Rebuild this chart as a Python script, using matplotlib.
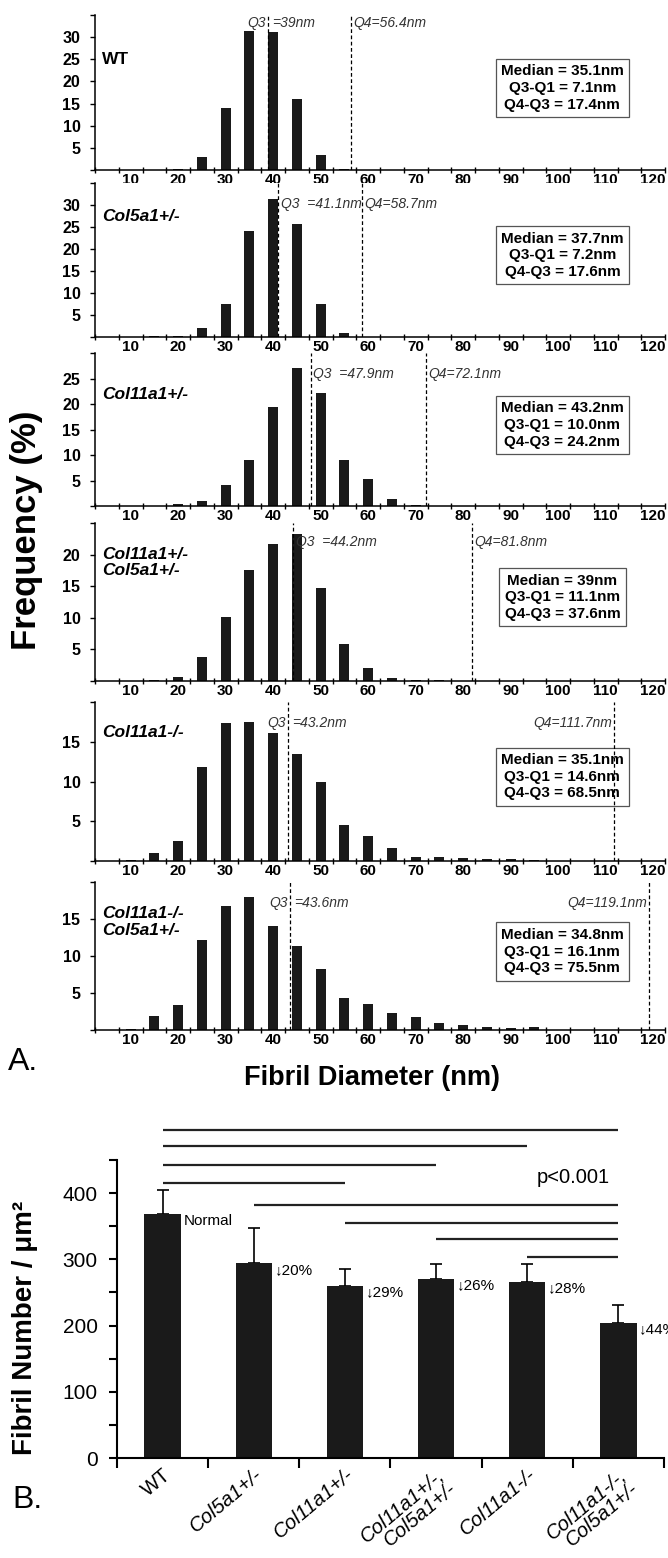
import matplotlib
matplotlib.use("Agg")
import matplotlib.pyplot as plt
import matplotlib.transforms as mtransforms
import numpy as np

FIG_W, FIG_H = 668, 1558

plt.rcParams["font.family"] = ["Liberation Sans", "DejaVu Sans"]

BAR_COLOR = "#1a1a1a"

# ---- A: fibril diameter distributions (% of fibrils per 5 nm bin)
diameter_bins = [5, 10, 15, 20, 25, 30, 35, 40, 45, 50, 55, 60,
                 65, 70, 75, 80, 85, 90, 95, 100, 105, 110, 115, 120]

genotype_panels = ["WT", "Col5a1+/-", "Col11a1+/-", "Col11a1+/-\nCol5a1+/-",
                   "Col11a1-/-", "Col11a1-/-\nCol5a1+/-"]

freq_wt = [0, 0, 0.1, 0.3, 3.0, 14.0, 31.5, 31.2, 16.0, 3.3, 0.3, 0,
           0, 0, 0, 0, 0, 0, 0, 0, 0, 0, 0, 0]
freq_col5 = [0, 0, 0.3, 0.15, 2.0, 7.5, 24.0, 31.3, 25.6, 7.6, 0.9, 0.1,
             0, 0, 0, 0, 0, 0, 0, 0, 0, 0, 0, 0]
freq_col11_het = [0, 0, 0, 0.3, 1.0, 4.2, 9.0, 19.4, 27.0, 22.2, 9.0, 5.3,
                  1.4, 0.2, 0, 0, 0, 0, 0, 0, 0, 0, 0, 0]
freq_col11_het_col5 = [0, 0, 0.1, 0.7, 3.8, 10.2, 17.5, 21.7, 23.2, 14.7, 5.8, 2.0,
                       0.4, 0.1, 0.1, 0, 0, 0, 0, 0, 0, 0, 0, 0]
freq_col11_null = [0, 0.1, 1.0, 2.5, 11.8, 17.4, 17.5, 16.1, 13.4, 9.9, 4.5, 3.1,
                   1.6, 0.55, 0.55, 0.35, 0.2, 0.2, 0.1, 0, 0, 0, 0, 0]
freq_col11_null_col5 = [0, 0.2, 1.9, 3.4, 12.1, 16.8, 18.0, 14.0, 11.4, 8.3, 4.3, 3.5,
                        2.25, 1.8, 1.0, 0.7, 0.4, 0.3, 0.4, 0, 0, 0, 0, 0]
freq_series = [freq_wt, freq_col5, freq_col11_het, freq_col11_het_col5,
               freq_col11_null, freq_col11_null_col5]

q3_values = [39, 41.1, 47.9, 44.2, 43.2, 43.6]
q4_values = [56.4, 58.7, 72.1, 81.8, 111.7, 119.1]
q3_text = ["39", "41.1", "47.9", "44.2", "43.2", "43.6"]
q4_text = ["56.4", "58.7", "72.1", "81.8", "111.7", "119.1"]
median_text = ["35.1", "37.7", "43.2", "39", "35.1", "34.8"]
q3q1_text = ["7.1", "7.2", "10.0", "11.1", "14.6", "16.1"]
q4q3_text = ["17.4", "17.6", "24.2", "37.6", "68.5", "75.5"]
freq_ymax = [35, 35, 30, 25, 20, 20]

# ---- B: fibril density
genotypes_b = ["WT", "Col5a1+/-", "Col11a1+/-", "Col11a1+/-,\nCol5a1+/-",
               "Col11a1-/-", "Col11a1-/-,\nCol5a1+/-"]
fibril_number = [368, 294, 260, 271, 266, 204]
fibril_sd = [36, 53, 25, 22, 27, 27]
change_labels = ["Normal", "\u219320%", "\u219329%", "\u219326%", "\u219328%", "\u219344%"]
sig_pairs = [(0, 5), (0, 4), (0, 3), (0, 2), (1, 5), (2, 5), (3, 5), (4, 5)]
sig_levels = [496, 471, 443, 416, 382, 355, 330, 304]

# layout (pixels in the 668x1558 canvas)
panel_tops = [15, 183, 353, 523, 702, 882]
panel_bottoms = [170, 337, 506, 681, 861, 1030]
label_y = [0.71, 0.78, 0.73, 0.75, 0.81, 0.73]
q_text_drop = [-6, -15, -15, -14, -15, -15]
q3_split = [True, False, False, False, True, True]
q4_left = [False, False, False, False, True, True]


def px_axes(fig, left, top, right, bottom):
    return fig.add_axes([left / FIG_W, 1 - bottom / FIG_H,
                         (right - left) / FIG_W, (bottom - top) / FIG_H])


fig = plt.figure(figsize=(FIG_W / 100, FIG_H / 100), dpi=100)

for i, freq in enumerate(freq_series):
    ax = px_axes(fig, 95, panel_tops[i], 665, panel_bottoms[i])
    ax.bar(diameter_bins, freq, width=2.1, color=BAR_COLOR, zorder=2)
    ax.set_xlim(2.5, 122.5)
    ymax = freq_ymax[i]
    ax.set_ylim(0, ymax)

    ax.spines[["top", "right"]].set_visible(False)
    ax.spines[["left", "bottom"]].set_linewidth(1.1)

    ax.set_xticks(range(10, 121, 10))
    ax.set_xticklabels([str(v) for v in range(10, 121, 10)],
                       fontsize=11, fontweight="bold")
    ax.set_xticks(np.arange(2.5, 123, 5), minor=True)
    ax.tick_params(axis="x", which="major", length=0, pad=2)
    ax.tick_params(axis="x", which="minor", direction="inout", length=5, width=1)

    yt = list(range(0, ymax + 1, 5))
    ax.set_yticks(yt)
    ax.set_yticklabels(["" if (v == 0 or v == ymax) else str(v) for v in yt],
                       fontsize=11.5, fontweight="bold")
    ax.tick_params(axis="y", length=3.5, width=1, pad=7)

    # genotype label
    ax.text(0.012, label_y[i], genotype_panels[i], transform=ax.transAxes,
            fontsize=12.5, fontweight="bold",
            fontstyle="normal" if i == 0 else "italic",
            ha="left", va="center", linespacing=1.15)

    # quartile lines
    for q in (q3_values[i], q4_values[i]):
        ax.axvline(q, color="black", lw=0.9, ls=(0, (3, 2)), zorder=4)

    dy = q_text_drop[i]
    qfont = dict(fontsize=10, fontstyle="italic", color="#333333",
                 va="center", xycoords=("data", "axes fraction"),
                 textcoords="offset points")
    if q3_split[i]:
        ax.annotate("Q3", xy=(q3_values[i], 1), xytext=(-2, dy),
                    ha="right", **qfont)
        ax.annotate(f"={q3_text[i]}nm", xy=(q3_values[i], 1), xytext=(3, dy),
                    ha="left", **qfont)
    else:
        ax.annotate(f"Q3  ={q3_text[i]}nm", xy=(q3_values[i], 1), xytext=(2, dy),
                    ha="left", **qfont)
    if q4_left[i]:
        ax.annotate(f"Q4={q4_text[i]}nm", xy=(q4_values[i], 1), xytext=(-1, dy),
                    ha="right", **qfont)
    else:
        ax.annotate(f"Q4={q4_text[i]}nm", xy=(q4_values[i], 1), xytext=(2, dy),
                    ha="left", **qfont)

    stats = (f"Median = {median_text[i]}nm\n"
             f"Q3-Q1 = {q3q1_text[i]}nm\n"
             f"Q4-Q3 = {q4q3_text[i]}nm")
    ax.text(0.82, 0.53, stats, transform=ax.transAxes, ha="center", va="center",
            fontsize=11, fontweight="bold", linespacing=1.25, zorder=3,
            bbox=dict(boxstyle="square,pad=0.35", fc="white", ec="#555555", lw=0.9))

fig.text(27 / FIG_W, 1 - 530 / FIG_H, "Frequency (%)", rotation=90,
         ha="center", va="center", fontsize=25, fontweight="bold")
fig.text(372 / FIG_W, 1 - 1078 / FIG_H, "Fibril Diameter (nm)",
         ha="center", va="center", fontsize=19.5, fontweight="bold")
fig.text(8 / FIG_W, 1 - 1062 / FIG_H, "A.", ha="left", va="center", fontsize=23)

# ---- panel B
axb = px_axes(fig, 117, 1160, 664, 1458)
xb = np.arange(len(fibril_number))
axb.bar(xb, fibril_number, width=0.4, color=BAR_COLOR, zorder=2)
axb.errorbar(xb, fibril_number, yerr=[np.zeros(len(fibril_sd)), fibril_sd],
             fmt="none", ecolor="black", elinewidth=1.2, capsize=4.5,
             capthick=1.2, zorder=1)
axb.set_xlim(-0.5, len(fibril_number) - 0.5)
axb.set_ylim(0, 450)
axb.spines[["top", "right"]].set_visible(False)
axb.spines[["left", "bottom"]].set_linewidth(1.5)

yt_b = list(range(0, 451, 50))
axb.set_yticks(yt_b)
axb.set_yticklabels([str(v) if v % 100 == 0 else "" for v in yt_b], fontsize=15)
axb.tick_params(axis="y", length=6, width=1.5, pad=8)

axb.set_xticks(xb)
axb.set_xticklabels(genotypes_b, fontsize=14.5, rotation=40, ha="right",
                    rotation_mode="anchor", linespacing=0.95)
label_shift = mtransforms.ScaledTranslation(14 / 100, 0, fig.dpi_scale_trans)
for k, lab in enumerate(axb.get_xticklabels()):
    lab.set_transform(lab.get_transform() + label_shift)
    if k > 0:
        lab.set_fontstyle("italic")
axb.tick_params(axis="x", which="major", length=0, pad=5)
axb.set_xticks(np.arange(-0.5, len(fibril_number), 1), minor=True)
axb.tick_params(axis="x", which="minor", length=7, width=1.5)

for k, (v, txt) in enumerate(zip(fibril_number, change_labels)):
    axb.text(k + 0.23, v - 10, txt, ha="left", va="center", fontsize=11,
             clip_on=False)

for (a, b), lvl in zip(sig_pairs, sig_levels):
    axb.plot([a, b], [lvl, lvl], color="#222222", lw=1.6, clip_on=False,
             solid_capstyle="butt")

axb.text(4.5, 424, "p<0.001", ha="center", va="center", fontsize=14.5)

fig.text(25 / FIG_W, 1 - 1328 / FIG_H, "Fibril Number / \u03bcm\u00b2", rotation=90,
         ha="center", va="center", fontsize=20, fontweight="bold")
fig.text(12 / FIG_W, 1 - 1500 / FIG_H, "B.", ha="left", va="center", fontsize=23)

fig.savefig("out.png", dpi=100)
